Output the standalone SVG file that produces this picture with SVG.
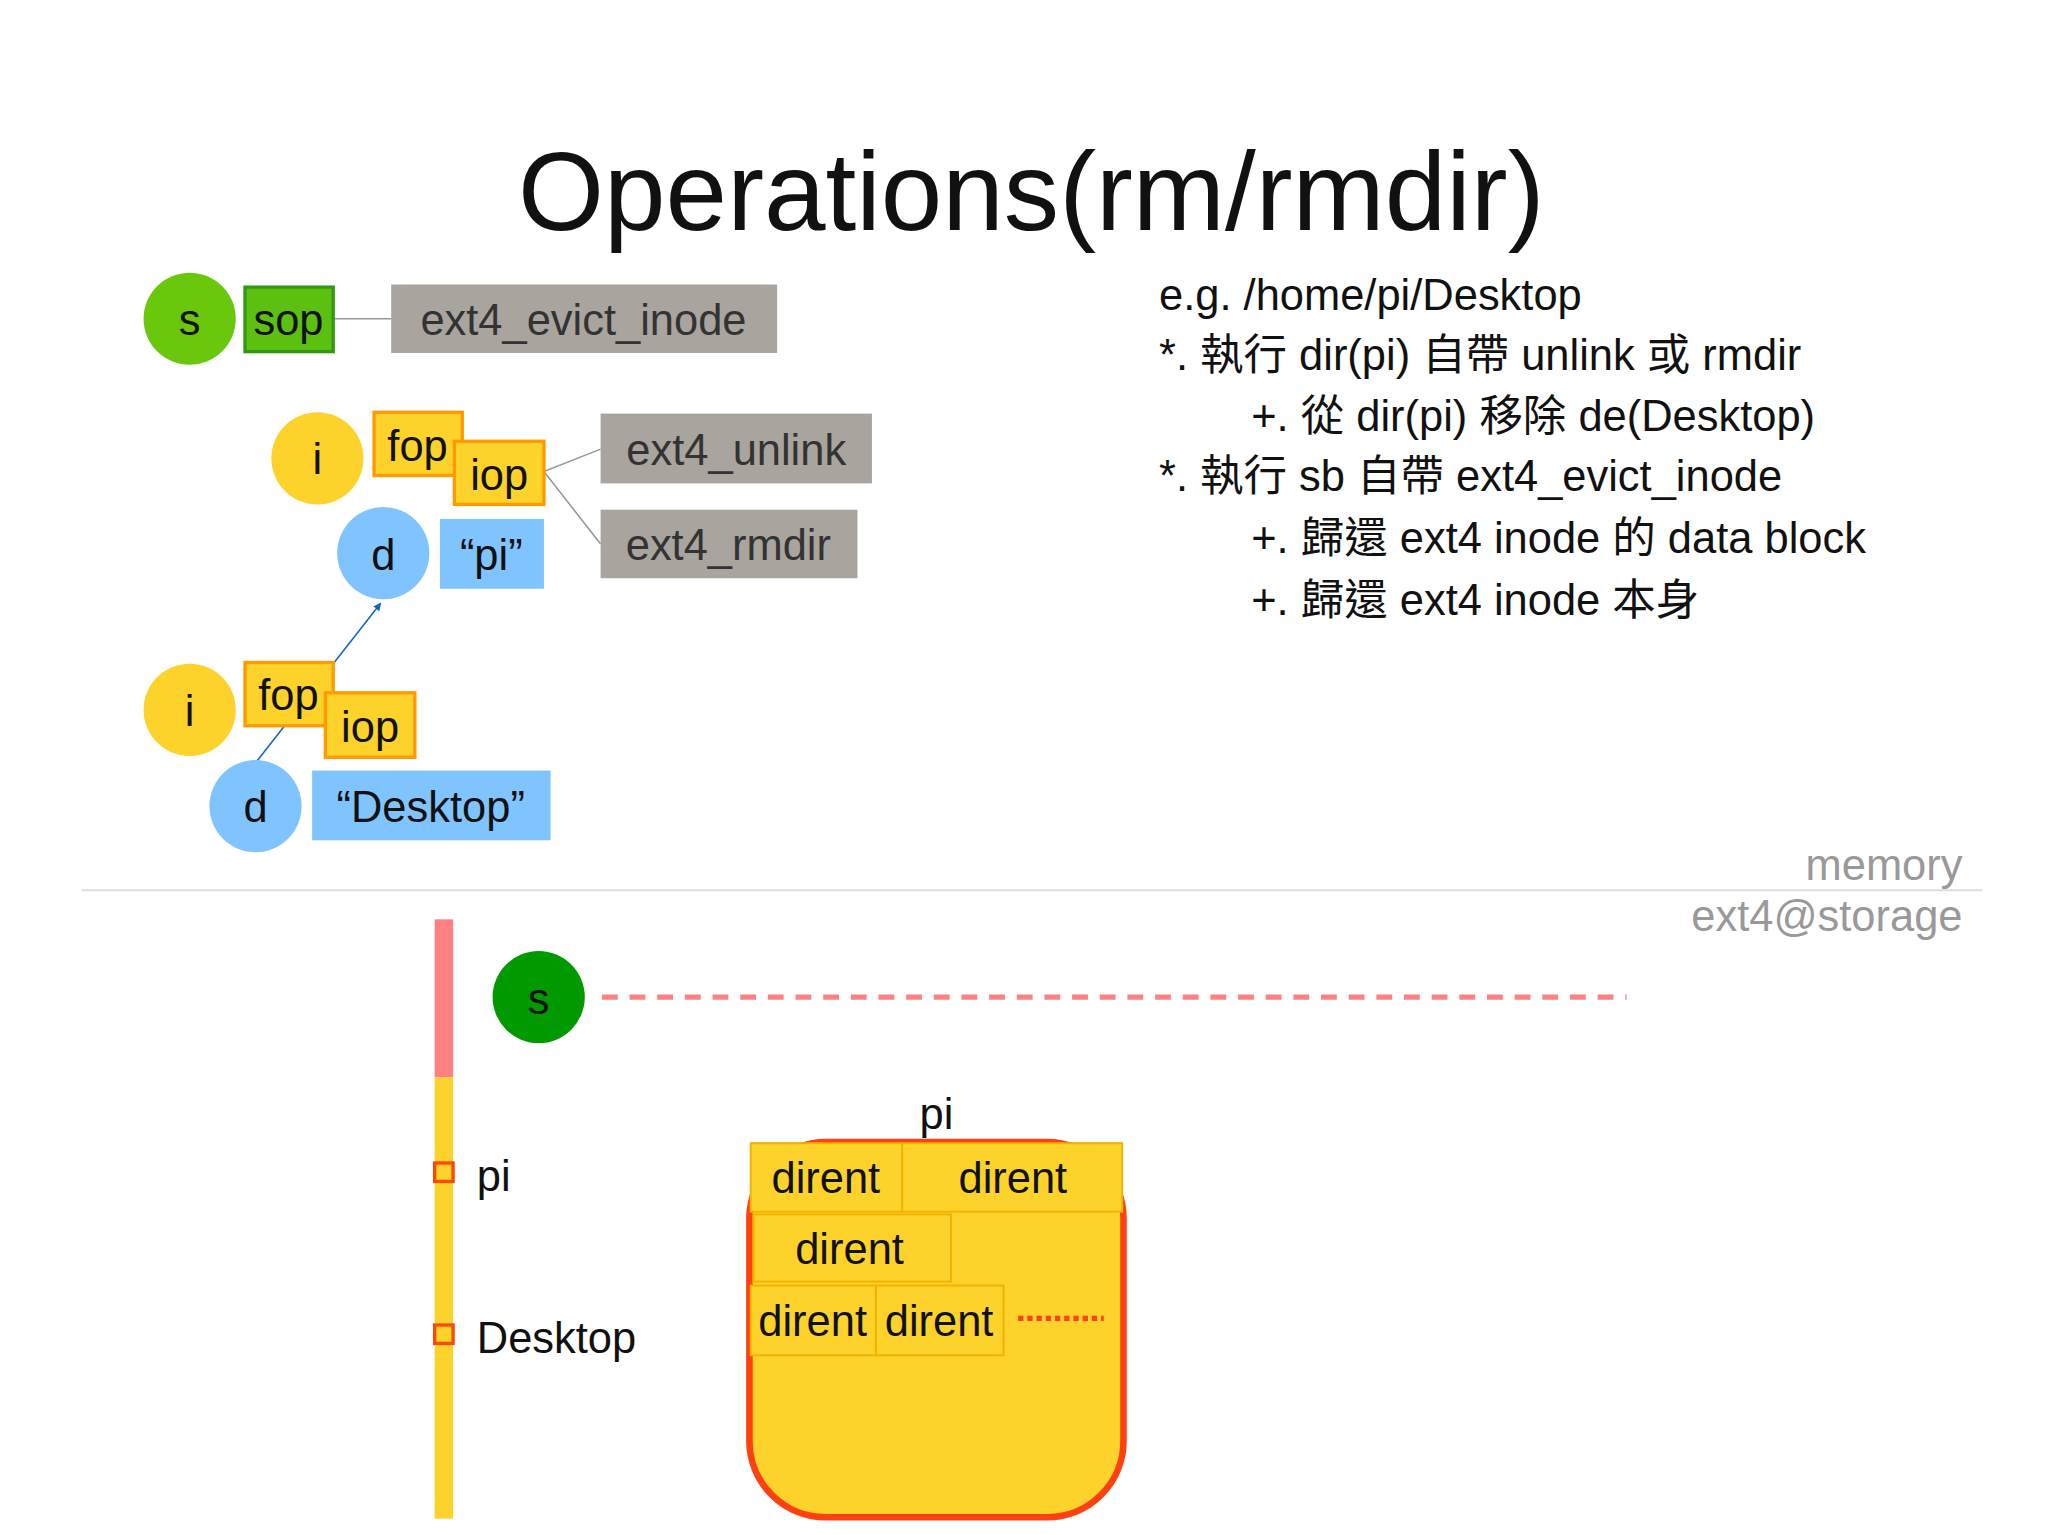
<svg xmlns="http://www.w3.org/2000/svg" width="2048" height="1535" viewBox="0 0 2048 1535">
<style>
text{font-family:"Liberation Sans","Noto Sans CJK TC",sans-serif;font-size:33px;fill:#111}
.c{text-anchor:middle}
.y{fill:#fdd22a;stroke:#ff9a00;stroke-width:2.5}
.b{fill:#80c4ff}
.g{fill:#a9a49e}
.gt{fill:#333}
.dr{fill:#fdd22a;stroke:#f0b400;stroke-width:1.5}
</style>
<defs><marker id="ah" viewBox="0 0 10 10" refX="9" refY="5" markerWidth="5" markerHeight="5" orient="auto"><path d="M0,0L10,5L0,10z" fill="#1565c0"/></marker></defs>
<rect width="2048" height="1535" fill="#fff"/>
<g transform="scale(1.3171)">
<text x="783" y="175" class="c" style="font-size:84px">Operations(rm/rmdir)</text>
<g id="connectors" stroke="#999" stroke-width="1.2" fill="none">
<line x1="253" y1="242" x2="297" y2="242"/>
<line x1="413" y1="358" x2="456" y2="341"/>
<line x1="413" y1="358" x2="456" y2="413"/>
<line x1="195" y1="578" x2="289" y2="458" stroke="#1565c0" marker-end="url(#ah)"/>
</g>
<g id="s1"><circle cx="144" cy="242" r="35" fill="#6ac80c"/><text x="144" y="254" class="c">s</text></g>
<g id="sop"><rect x="186" y="218" width="67" height="49" fill="#5cc010" stroke="#2f9a10" stroke-width="2.5"/><text x="219" y="254" class="c">sop</text></g>
<g id="evict"><rect x="297" y="216" width="293" height="52" class="g"/><text x="443" y="254" class="c gt">ext4_evict_inode</text></g>
<g id="i1"><circle cx="241" cy="348" r="35" fill="#fdd22a"/><text x="241" y="360" class="c">i</text></g>
<g id="fop1"><rect x="284" y="313" width="67" height="48" class="y"/><text x="317" y="350" class="c">fop</text></g>
<g id="iop1"><rect x="345" y="335" width="68" height="48" class="y"/><text x="379" y="372" class="c">iop</text></g>
<g id="unlink"><rect x="456" y="314" width="206" height="53" class="g"/><text x="559" y="353" class="c gt">ext4_unlink</text></g>
<g id="rmdir"><rect x="456" y="387" width="195" height="52" class="g"/><text x="553" y="425" class="c gt">ext4_rmdir</text></g>
<g id="d1"><circle cx="291" cy="420" r="35" class="b"/><text x="291" y="433" class="c">d</text></g>
<g id="pi"><rect x="334" y="394" width="79" height="53" class="b"/><text x="373" y="433" class="c">“pi”</text></g>
<g id="i2"><circle cx="144" cy="539" r="35" fill="#fdd22a"/><text x="144" y="551" class="c">i</text></g>
<g id="fop2"><rect x="186" y="503" width="67" height="48" class="y"/><text x="219" y="539" class="c">fop</text></g>
<g id="iop2"><rect x="247" y="526" width="68" height="49" class="y"/><text x="281" y="563" class="c">iop</text></g>
<g id="d2"><circle cx="194" cy="612" r="35" class="b"/><text x="194" y="624" class="c">d</text></g>
<g id="desk"><rect x="237" y="585" width="181" height="53" class="b"/><text x="327" y="624" class="c">“Desktop”</text></g>
<g id="notes">
<text x="880" y="235">e.g. /home/pi/Desktop</text>
<text x="880" y="281">*.  執行 dir(pi) 自帶 unlink 或 rmdir</text>
<text x="950" y="327">+.  從 dir(pi) 移除 de(Desktop)</text>
<text x="880" y="373">*.  執行 sb 自帶 ext4_evict_inode</text>
<text x="950" y="420">+.  歸還 ext4 inode 的 data block</text>
<text x="950" y="467">+.  歸還 ext4 inode 本身</text>
</g>
<line x1="62" y1="676" x2="1505" y2="676" stroke="#ddd" stroke-width="1.5"/>
<text x="1490" y="668" text-anchor="end" style="fill:#999">memory</text>
<text x="1490" y="707" text-anchor="end" style="fill:#999">ext4@storage</text>
<g id="bar"><rect x="330" y="698" width="14" height="120" fill="#ff8080"/><rect x="330" y="818" width="14" height="335" fill="#fdd22a"/>
<rect x="330" y="883" width="14" height="14" fill="#fdd22a" stroke="#ff4500" stroke-width="2.5"/>
<rect x="330" y="1006" width="14" height="14" fill="#fdd22a" stroke="#ff4500" stroke-width="2.5"/>
<text x="362" y="904">pi</text><text x="362" y="1027">Desktop</text></g>
<g id="s2"><circle cx="409" cy="757" r="35" fill="#009a00"/><text x="409" y="770" class="c">s</text></g>
<line x1="457" y1="757" x2="1235" y2="757" stroke="#ff8080" stroke-width="4" stroke-dasharray="12 9"/>
<g id="block">
<text x="711" y="857" class="c">pi</text>
<rect x="570" y="867" width="282" height="55" fill="#fdd22a"/>
<rect x="569" y="867" width="284" height="285" rx="58" fill="#fdd22a" stroke="#ff4010" stroke-width="5"/>
<rect x="570" y="868" width="115" height="52" class="dr"/><text x="627" y="906" class="c">dirent</text>
<rect x="685" y="868" width="167" height="52" class="dr"/><text x="769" y="906" class="c">dirent</text>
<rect x="572" y="922" width="150" height="51" class="dr"/><text x="645" y="960" class="c">dirent</text>
<rect x="570" y="976" width="95" height="53" class="dr"/><text x="617" y="1014" class="c">dirent</text>
<rect x="665" y="976" width="97" height="53" class="dr"/><text x="713" y="1014" class="c">dirent</text>
<line x1="773" y1="1001" x2="838" y2="1001" stroke="#ff4010" stroke-width="4" stroke-dasharray="4 3"/>
</g>
</g>
</svg>
